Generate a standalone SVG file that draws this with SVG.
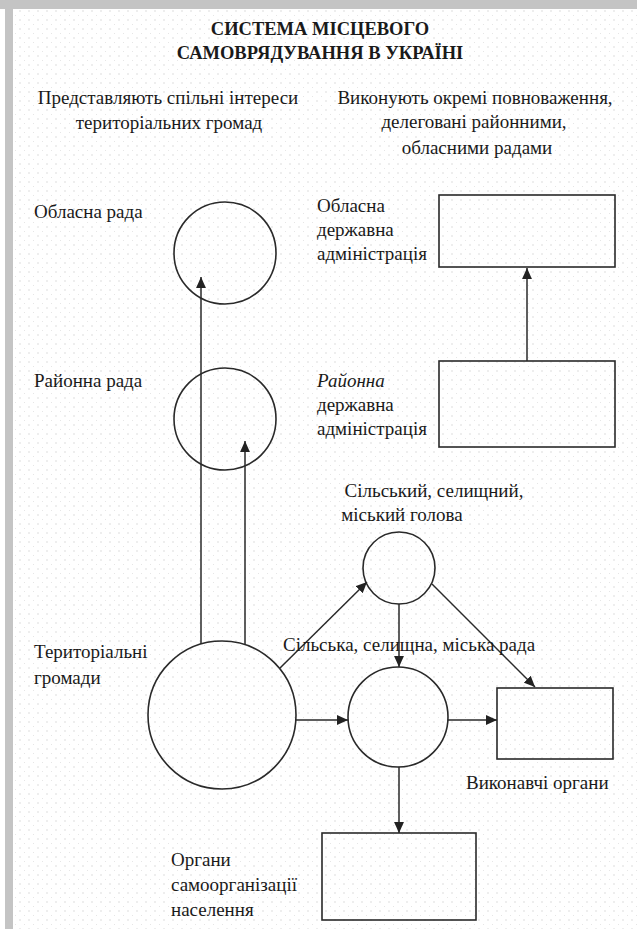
<svg xmlns="http://www.w3.org/2000/svg" width="637" height="929" viewBox="0 0 637 929">
<defs>
<pattern id="dots" width="9" height="9" patternUnits="userSpaceOnUse">
<circle cx="2" cy="2" r="0.7" fill="#cfcfcf"/>
<circle cx="6.5" cy="6.5" r="0.5" fill="#dedede"/>
</pattern>
<marker id="arr" viewBox="0 0 10 10" refX="10" refY="5" markerWidth="11" markerHeight="11" markerUnits="userSpaceOnUse" orient="auto">
<path d="M0,0.5 L10,5 L0,9.5 Z" fill="#222"/>
</marker>
<style>
.t{font-family:"Liberation Serif","Times New Roman",serif;font-size:19px;fill:#1a1a1a}
.h{font-family:"Liberation Serif","Times New Roman",serif;font-size:18.5px;font-weight:bold;fill:#1a1a1a}
.s{fill:none;stroke:#2a2a2a;stroke-width:1.6}
.c{fill:none;stroke:#2a2a2a;stroke-width:1.5;marker-end:url(#arr)}
</style>
</defs>
<rect width="637" height="929" fill="#ffffff"/>
<rect x="13" y="9" width="624" height="920" fill="url(#dots)"/>
<rect x="0" y="0" width="637" height="9" fill="#c4c4c4"/>
<rect x="5" y="0" width="8" height="929" fill="#c4c4c4"/>

<g id="title">
<text class="h" x="320" y="35" text-anchor="middle">СИСТЕМА МІСЦЕВОГО</text>
<text class="h" x="320" y="59" text-anchor="middle">САМОВРЯДУВАННЯ В УКРАЇНІ</text>
</g>
<g id="header-left">
<text class="t" x="168" y="104" text-anchor="middle">Представляють спільні інтереси</text>
<text class="t" x="169" y="129" text-anchor="middle">територіальних громад</text>
</g>
<g id="header-right">
<text class="t" x="475" y="104" text-anchor="middle">Виконують окремі повноваження,</text>
<text class="t" x="474" y="128" text-anchor="middle">делеговані районними,</text>
<text class="t" x="477" y="154" text-anchor="middle">обласними радами</text>
</g>

<g id="oblasna-rada">
<circle class="s" cx="225" cy="253" r="51"/>
<text class="t" x="34" y="218">Обласна рада</text>
</g>
<g id="raionna-rada">
<circle class="s" cx="225" cy="419" r="51"/>
<text class="t" x="34" y="387">Районна рада</text>
</g>
<g id="oblasna-adm">
<rect class="s" x="439" y="195" width="176" height="72"/>
<text class="t" x="317" y="212">Обласна</text>
<text class="t" x="317" y="236">державна</text>
<text class="t" x="317" y="260">адміністрація</text>
</g>
<g id="raionna-adm">
<rect class="s" x="439" y="361" width="176" height="86"/>
<text class="t" x="317" y="387" font-style="italic">Районна</text>
<text class="t" x="317" y="411">державна</text>
<text class="t" x="317" y="435">адміністрація</text>
</g>
<g id="teritorialni-gromady">
<circle class="s" cx="222" cy="715" r="74"/>
<text class="t" x="34" y="658">Територіальні</text>
<text class="t" x="34" y="684">громади</text>
</g>
<g id="holova">
<circle class="s" cx="399" cy="568" r="36"/>
<text class="t" x="434" y="497" text-anchor="middle">Сільський, селищний,</text>
<text class="t" x="402" y="521" text-anchor="middle">міський голова</text>
</g>
<g id="rada">
<circle class="s" cx="398" cy="717" r="50"/>
</g>
<g id="vykonavchi">
<rect class="s" x="497" y="688" width="116" height="71"/>
<text class="t" x="466" y="789">Виконавчі органи</text>
</g>
<g id="samoorganizatsiya">
<rect class="s" x="322" y="833" width="154" height="87"/>
<text class="t" x="171" y="866">Органи</text>
<text class="t" x="171" y="891">самоорганізації</text>
<text class="t" x="171" y="916">населення</text>
</g>

<g id="connectors">
<line class="c" x1="201" y1="644" x2="201" y2="277"/>
<line class="c" x1="245" y1="645" x2="245" y2="441"/>
<line class="c" x1="527" y1="361" x2="527" y2="268"/>
<line class="c" x1="280" y1="668" x2="367" y2="582"/>
<line class="c" x1="399" y1="604" x2="399" y2="667"/>
<line class="c" x1="432" y1="584" x2="535" y2="687"/>
<line class="c" x1="296" y1="720" x2="348" y2="720"/>
<line class="c" x1="448" y1="720" x2="497" y2="720"/>
<line class="c" x1="399" y1="767" x2="399" y2="833"/>
</g>
<g id="rada-label">
<text class="t" x="283" y="651">Сільська, селищна, міська рада</text>
</g>
</svg>
